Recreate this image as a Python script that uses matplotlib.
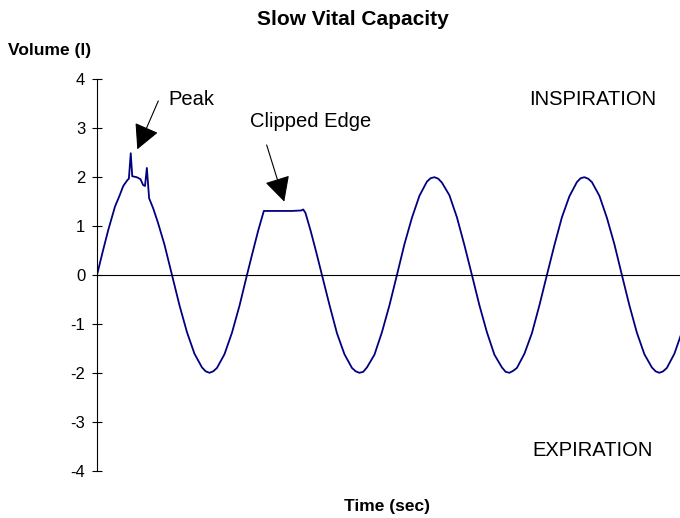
import matplotlib.pyplot as plt

plt.rcParams['font.family'] = ['Liberation Sans', 'DejaVu Sans']
plt.rcParams['axes.unicode_minus'] = False

# trace: time (sec) vs volume (l), breathing period ~4 s
time_s = [0.00, 0.15, 0.30, 0.48, 0.60, 0.70, 0.81, 0.85, 0.90, 0.94, 1.06, 1.16, 1.23, 1.28,
          1.33, 1.39, 1.50, 1.63, 1.80, 2.00, 2.20, 2.40, 2.60, 2.80, 2.90, 3.00, 3.10, 3.20,
          3.40, 3.60, 3.80,
          4.00, 4.15, 4.30, 4.45, 4.80, 5.20, 5.45, 5.50, 5.56, 5.70, 5.85, 6.00, 6.20, 6.40,
          6.60, 6.80, 6.90, 7.00, 7.10, 7.20, 7.40, 7.60, 7.80,
          8.00, 8.20, 8.40, 8.60, 8.80, 8.90, 9.00, 9.10, 9.20, 9.40, 9.60, 9.80, 10.00, 10.20,
          10.40, 10.60, 10.80, 10.90, 11.00, 11.10, 11.20, 11.40, 11.60, 11.80,
          12.00, 12.20, 12.40, 12.60, 12.80, 12.90, 13.00, 13.10, 13.20, 13.40, 13.60, 13.80,
          14.00, 14.20, 14.40, 14.60, 14.80, 14.90, 15.00, 15.10, 15.20, 15.40, 15.60]
volume_l = [0.00, 0.47, 0.92, 1.40, 1.62, 1.82, 1.94, 1.97, 2.49, 2.02, 2.00, 1.96, 1.84, 1.82,
            2.19, 1.57, 1.36, 1.06, 0.62, 0.00, -0.62, -1.17, -1.61, -1.89, -1.97, -2.00, -1.97, -1.90,
            -1.62, -1.18, -0.63,
            0.00, 0.46, 0.91, 1.31, 1.31, 1.31, 1.32, 1.34, 1.27, 0.90, 0.46, 0.00, -0.61, -1.19,
            -1.62, -1.90, -1.97, -2.00, -1.98, -1.89, -1.63, -1.17, -0.62,
            0.00, 0.63, 1.17, 1.62, 1.91, 1.98, 2.00, 1.97, 1.89, 1.63, 1.18, 0.61, 0.00, -0.62,
            -1.17, -1.63, -1.89, -1.98, -2.00, -1.96, -1.90, -1.61, -1.19, -0.62,
            0.00, 0.61, 1.18, 1.61, 1.90, 1.98, 2.00, 1.97, 1.90, 1.62, 1.17, 0.63,
            0.00, -0.62, -1.18, -1.62, -1.89, -1.97, -2.00, -1.97, -1.90, -1.61, -1.17]

y_ticks = [4, 3, 2, 1, 0, -1, -2, -3, -4]

fig = plt.figure(figsize=(6.8, 5.18), dpi=100)
ax = fig.add_axes([97 / 680, 0.0915, 1 - 97 / 680, 0.7552])

ax.plot(time_s, volume_l, color='#000080', lw=1.3)
ax.axhline(0, color='black', lw=0.8)

ax.set_xlim(0, 15.55)
ax.set_ylim(-4, 4)
ax.set_yticks(y_ticks)
ax.set_xticks([])
for s in ['top', 'right', 'bottom']:
    ax.spines[s].set_visible(False)
ax.spines['left'].set_linewidth(0.8)
ax.tick_params(axis='y', direction='inout', length=7.2, width=0.8, pad=4.8, labelsize=12)

# annotations
arrow = dict(arrowstyle='-|>,head_length=15.5,head_width=8', mutation_scale=1,
             shrinkA=0, shrinkB=0, color='black', lw=0.8)
ax.annotate('', xy=(1.075, 2.57), xytext=(1.635, 3.56), arrowprops=arrow)
ax.annotate('', xy=(4.995, 1.50), xytext=(4.525, 2.66), arrowprops=arrow)
ax.text(1.895, 3.58, 'Peak', fontsize=14.5, ha='left', va='center')
ax.text(4.08, 3.13, 'Clipped Edge', fontsize=14.5, ha='left', va='center')
ax.text(13.21, 3.59, 'INSPIRATION', fontsize=14.5, ha='center', va='center')
ax.text(13.21, -3.58, 'EXPIRATION', fontsize=14.5, ha='center', va='center')

fig.text(352.6 / 680, 1 - 19.6 / 518, 'Slow Vital Capacity', fontsize=15, fontweight='bold',
         ha='center', va='center')
fig.text(8 / 680, 1 - 50 / 518, 'Volume (l)', fontsize=12.5, fontweight='bold',
         ha='left', va='center')
fig.text(387.5 / 680, 1 - 506.7 / 518, 'Time (sec)', fontsize=12.5, fontweight='bold',
         ha='center', va='center')

fig.savefig('out.png', dpi=100)
